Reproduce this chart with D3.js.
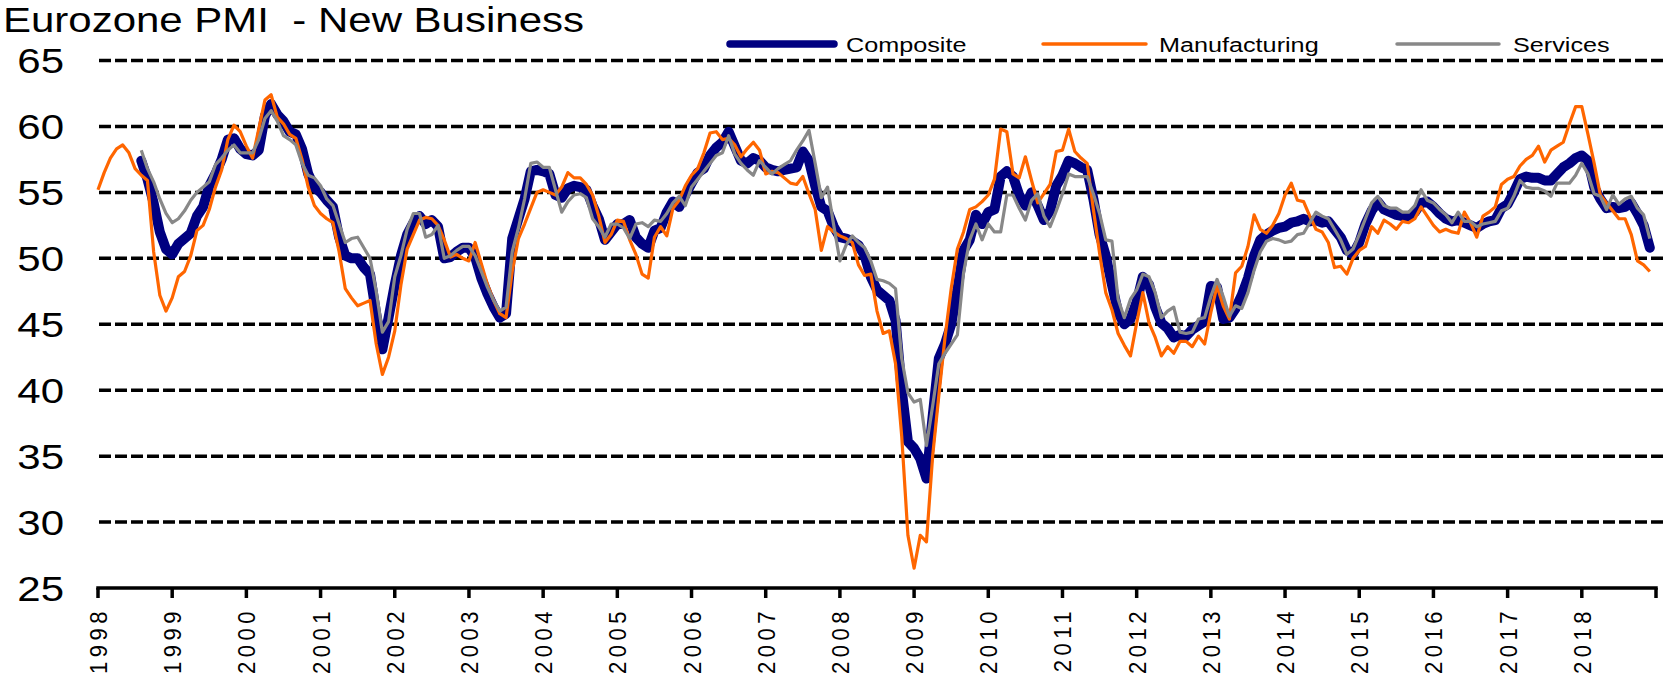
<!DOCTYPE html>
<html lang="en">

<head>
  <meta charset="utf-8" />
  <title>Eurozone PMI - New Business</title>
  <script src="https://cdn.jsdelivr.net/npm/d3@7"></script>
  <style>
    body {
      margin: 0;
      background: #fff;
    }

    svg {
      display: block;
      font-family: "Liberation Sans", Arial, sans-serif;
    }

    .grid-line {
      stroke: #000;
      stroke-width: 3.5px;
      stroke-dasharray: 12, 4;
    }

    .axis-line {
      stroke: #000;
      stroke-width: 3.5px;
    }

    .composite-line {
      fill: none;
      stroke: #000080;
      stroke-width: 10px;
      stroke-linejoin: round;
      stroke-linecap: round;
    }

    .manufacturing-line {
      fill: none;
      stroke: #ff6600;
      stroke-width: 3.2px;
      stroke-linejoin: round;
    }

    .services-line {
      fill: none;
      stroke: #888888;
      stroke-width: 3.2px;
      stroke-linejoin: round;
    }
  </style>
</head>

<body>
  <script>
    // monthly index readings, Manufacturing from Jan 1998, the others from Aug 1998
    var manufacturing = [
      55.2, 56.5, 57.6, 58.3, 58.6, 58.0, 56.8, 56.3, 55.9, 50.5, 47.2, 46.0,
      47.0, 48.6, 49.0, 50.2, 52.1, 52.5, 53.7, 55.4, 56.7, 59.0, 60.1, 59.6,
      58.5, 57.6, 59.8, 62.0, 62.4, 60.7, 60.2, 59.4, 59.1, 57.5, 55.4, 54.0,
      53.4, 53.0, 52.7, 50.5, 47.7, 47.0, 46.4, 46.6, 46.8, 43.5, 41.2, 42.5,
      44.5, 48.0, 50.7, 51.8, 52.9, 53.1, 53.0, 52.5, 51.4, 50.1, 50.3, 50.0,
      49.8, 51.2, 49.6, 48.0, 46.8, 45.8, 45.5, 49.0, 51.5, 52.6, 53.8, 55.0,
      55.2, 55.0, 54.8, 55.4, 56.5, 56.1, 56.1, 55.6, 54.8, 53.2, 51.2, 51.8,
      52.9, 52.8, 51.4, 50.3, 48.8, 48.5, 51.6, 52.4, 51.7, 53.8, 54.4, 55.5,
      56.3, 56.8, 58.0, 59.5, 59.6, 59.0, 59.1, 58.6, 57.7, 58.3, 58.8, 58.2,
      56.4, 56.6, 56.5, 56.1, 55.7, 55.6, 56.2, 54.9, 53.7, 50.6, 52.4, 52.0,
      51.7, 51.5, 51.2, 49.5, 48.7, 48.8, 46.0, 44.3, 44.5, 42.0, 36.5, 29.0,
      26.5, 29.0, 28.5, 35.0, 39.6, 44.0, 47.7, 50.7, 52.0, 53.7, 53.9, 54.3,
      54.8, 56.0, 59.8, 59.6, 56.4, 56.1, 57.7, 55.9, 54.2, 54.9, 55.6, 58.1,
      58.2, 59.8, 58.1, 57.6, 57.2, 53.7, 50.4, 47.4, 46.1, 44.3, 43.4, 42.6,
      45.1, 47.4, 45.1, 44.0, 42.6, 43.3, 42.8, 43.7, 43.7, 43.3, 44.1, 43.5,
      45.9, 47.9, 46.4, 45.4, 48.9, 49.4, 50.9, 53.3, 52.2, 51.9, 52.5, 53.4,
      54.8, 55.7, 54.4, 54.3, 53.2, 52.2, 52.0, 51.2, 49.3, 49.4, 48.8, 50.0,
      50.6, 50.9, 52.4, 51.9, 52.9, 52.6, 52.2, 52.8, 52.7, 53.0, 53.9, 53.2,
      52.5, 52.0, 52.2, 52.0, 51.9, 53.5, 52.7, 51.6, 53.2, 53.5, 53.9, 55.6,
      56.0, 56.2, 57.0, 57.5, 57.8, 58.5, 57.3, 58.2, 58.5, 58.8, 60.2, 61.5,
      61.5, 59.4, 57.2, 54.8, 54.2, 53.6, 53.0, 53.0, 51.8, 49.8, 49.5, 49.0
    ];

    var composite = [
      57.4, 56.0, 54.2, 52.0, 50.7,
      50.3, 51.1, 51.5, 51.9, 53.2, 53.9, 55.5, 56.4, 57.5, 59.0, 59.1, 58.3,
      57.9, 57.8, 58.2, 60.8, 61.7, 60.9, 60.4, 59.6, 59.4, 58.3, 56.4, 55.4,
      55.0, 54.4, 53.9, 51.6, 50.2, 50.0, 50.0, 49.3, 48.8, 45.8, 43.1, 45.5,
      48.0, 50.2, 51.8, 52.7, 53.2, 52.6, 52.9, 52.4, 50.0, 50.1, 50.5, 50.8,
      50.8, 50.1, 48.5, 47.3, 46.3, 45.5, 45.8, 51.5, 53.0, 54.5, 56.6, 56.7,
      56.6, 56.4, 54.8, 54.6, 55.3, 55.5, 55.4, 55.2, 54.0, 53.0, 51.4, 52.0,
      52.6, 52.6, 52.9, 51.6, 51.1, 50.8, 52.1, 52.3, 53.5, 54.3, 53.9, 54.8,
      55.7, 56.5, 56.8, 57.8, 58.4, 58.8, 59.6, 58.5, 57.4, 57.2, 57.6, 57.4,
      56.9, 56.7, 56.6, 56.7, 56.8, 56.9, 58.1, 57.4, 55.5, 53.9, 53.6, 52.4,
      51.6, 51.5, 51.3, 51.0, 50.2, 48.6, 47.6, 47.2, 46.8, 45.3, 40.0, 36.1,
      35.6, 34.8, 33.3, 38.0, 42.4, 43.5, 45.0, 47.6, 50.6, 51.4, 53.3, 52.6,
      53.5, 53.7, 56.2, 56.6, 56.2, 54.8, 54.0, 55.0, 54.0, 52.9, 53.6, 55.5,
      56.3, 57.4, 57.2, 56.9, 56.7, 54.5, 51.8, 50.2, 48.0, 45.9, 45.0, 45.4,
      46.7, 48.6, 48.0, 46.3, 45.1, 44.7, 44.0, 44.2, 44.1, 44.6, 44.9, 45.2,
      47.9, 47.8, 45.4, 45.5, 46.2, 47.2, 48.5, 50.2, 51.4, 51.8, 52.1, 52.3,
      52.4, 52.7, 52.8, 53.0, 52.8, 52.9, 52.7, 52.8, 52.2, 51.6, 50.6, 50.3,
      51.2, 52.6, 53.6, 54.3, 53.7, 53.5, 53.3, 53.2, 53.2, 53.5, 54.2, 54.3,
      53.9, 53.4, 53.0, 52.8, 52.9, 52.7, 52.5, 52.3, 52.6, 52.8, 52.9, 53.8,
      54.1, 55.0, 56.0, 56.2, 56.1, 56.1, 55.9, 55.9, 56.4, 56.9, 57.2, 57.6,
      57.8, 57.4, 55.4, 54.5, 53.8, 53.9, 53.8, 53.9, 54.2, 53.4, 52.5, 50.8
    ];

    var services = [
      58.2, 56.8, 55.8, 54.5, 53.4,
      52.7, 53.0, 53.6, 54.4, 55.0, 55.4, 55.8, 57.1, 57.6, 58.2, 58.6, 58.0,
      58.0, 58.0, 59.0, 60.6, 61.2, 60.4, 59.3, 59.0, 58.6, 57.2, 56.3, 56.1,
      55.5, 54.5, 54.0, 52.6, 51.2, 51.5, 51.6, 50.8, 50.0, 47.5, 44.4, 45.2,
      48.6, 50.2, 52.2, 53.4, 53.4, 51.6, 51.8, 52.5, 50.0, 50.2, 50.6, 50.9,
      50.9, 50.2, 49.0, 47.8, 46.8, 46.0, 46.3, 50.5, 52.3, 54.5, 57.2, 57.3,
      56.9, 56.9, 55.2, 53.5, 54.3, 54.8, 54.9, 54.6, 53.0, 52.4, 51.6, 52.6,
      52.6, 52.3, 51.5, 52.6, 52.7, 52.4, 52.9, 52.8, 53.4, 54.2, 54.7, 54.0,
      55.4, 56.0, 56.6, 57.2, 57.8, 58.0, 59.3, 57.9, 57.2, 56.7, 56.3, 57.4,
      56.9, 56.4, 56.8, 57.1, 57.4, 58.2, 58.9, 59.7, 57.2, 54.6, 55.4, 52.5,
      49.8, 51.0, 51.7, 51.2, 50.8, 49.8, 48.4, 48.3, 48.1, 47.7, 42.4, 39.8,
      39.1, 39.3, 35.8, 38.8, 42.0, 42.8, 43.5, 44.2, 48.9, 51.4, 52.6, 51.4,
      52.6, 52.0, 52.0, 54.8, 54.8, 53.8, 52.9, 54.4, 54.9, 53.2, 52.4, 53.6,
      54.9, 56.4, 56.2, 56.2, 56.2, 54.9, 53.4, 51.4, 51.3, 46.9, 45.5, 46.9,
      47.6, 48.8, 48.6, 47.4, 45.5, 46.0, 46.3, 44.4, 44.3, 44.4, 45.4, 45.5,
      47.1, 48.4, 47.1, 45.6, 46.4, 46.2, 47.4, 49.1, 50.5, 51.3, 51.5, 51.4,
      51.2, 51.3, 51.8, 51.9, 52.7, 53.5, 53.2, 53.0, 52.2, 51.4, 50.3, 50.7,
      51.8, 53.0, 54.2, 54.7, 54.0, 53.8, 53.8, 53.5, 53.5, 54.0, 55.2, 54.4,
      54.2, 53.7, 53.3, 52.7, 53.5, 52.8, 52.8, 52.4, 52.6, 52.7, 52.8, 53.6,
      53.8, 54.7, 55.9, 55.4, 55.3, 55.3, 55.1, 54.7, 55.7, 55.7, 55.7, 56.3,
      57.2, 56.4, 54.9, 54.7, 53.7, 54.8, 54.1, 54.5, 54.7, 53.8, 53.3, 51.5
    ];

    // month offsets from Jan 1998
    var manufacturingStart = 0;
    var compositeStart = 7;
    var servicesStart = 7;

    var seriesNames = ["Composite", "Manufacturing", "Services"];
    var yearLabels = d3.range(1998, 2019);
    var yTicks = [25, 30, 35, 40, 45, 50, 55, 60, 65];
    var title = "Eurozone PMI  - New Business";

    var w = 1667;
    var h = 679;
    var plot = { left: 98, right: 1656, top: 60.5, bottom: 588 };
    var stretch = 1.2;

    var svg = d3.select("body")
      .append("svg")
      .attr("width", w)
      .attr("height", h);

    var xScale = d3.scaleLinear()
      .domain([0, yearLabels.length * 12])
      .range([plot.left, plot.right]);

    var yScale = d3.scaleLinear()
      .domain([25, 65])
      .range([plot.bottom, plot.top]);

    // dashed grid
    svg.selectAll(".grid-line")
      .data(yTicks.filter(function(d) { return d > 25; }))
      .enter()
      .append("line")
      .attr("class", "grid-line")
      .attr("x1", plot.left + 1)
      .attr("x2", 1664)
      .attr("y1", function(d) { return yScale(d); })
      .attr("y2", function(d) { return yScale(d); });

    // y labels
    svg.selectAll(".y-label")
      .data(yTicks)
      .enter()
      .append("text")
      .attr("class", "y-label")
      .attr("text-anchor", "end")
      .attr("font-size", 35)
      .attr("transform", function(d) {
        return "translate(64," + (yScale(d) + 12.5) + ") scale(" + stretch + ",1)";
      })
      .text(function(d) { return d; });

    // x axis
    svg.append("line")
      .attr("class", "axis-line")
      .attr("x1", plot.left - 1.75)
      .attr("x2", plot.right + 1.75)
      .attr("y1", plot.bottom)
      .attr("y2", plot.bottom);

    svg.selectAll(".x-tick")
      .data(d3.range(yearLabels.length + 1))
      .enter()
      .append("line")
      .attr("class", "axis-line x-tick")
      .attr("x1", function(d) { return xScale(d * 12); })
      .attr("x2", function(d) { return xScale(d * 12); })
      .attr("y1", plot.bottom)
      .attr("y2", plot.bottom + 10);

    svg.selectAll(".x-label")
      .data(yearLabels)
      .enter()
      .append("text")
      .attr("class", "x-label")
      .attr("text-anchor", "end")
      .attr("font-size", 22)
      .attr("letter-spacing", 4.5)
      .attr("transform", function(d, i) {
        return "translate(" + (xScale(i * 12) + 9) + ",607) scale(1.1,1) rotate(-90)";
      })
      .text(function(d) { return d; });

    // series
    function toPoints(values, start) {
      return values.map(function(v, i) {
        return { m: start + i, v: v };
      });
    }

    var line = d3.line()
      .x(function(d) { return xScale(d.m); })
      .y(function(d) { return yScale(d.v); });

    svg.append("path")
      .datum(toPoints(composite, compositeStart))
      .attr("class", "composite-line")
      .attr("d", line);

    svg.append("path")
      .datum(toPoints(manufacturing, manufacturingStart))
      .attr("class", "manufacturing-line")
      .attr("d", line);

    svg.append("path")
      .datum(toPoints(services, servicesStart))
      .attr("class", "services-line")
      .attr("d", line);

    // title
    svg.append("text")
      .attr("font-size", 35)
      .attr("style", "white-space: pre")
      .attr("transform", "translate(3,32) scale(" + stretch + ",1)")
      .text(title);

    // legend
    var legend = [
      { cls: "composite-line", x1: 730, x2: 834, tx: 846, sw: 7.5 },
      { cls: "manufacturing-line", x1: 1043, x2: 1146, tx: 1159, sw: 3.5 },
      { cls: "services-line", x1: 1397, x2: 1499, tx: 1513, sw: 3.5 }
    ];

    legend.forEach(function(l, i) {
      svg.append("line")
        .attr("class", l.cls)
        .attr("x1", l.x1)
        .attr("x2", l.x2)
        .attr("y1", 44)
        .attr("y2", 44)
        .style("stroke-width", l.sw + "px")
        .style("stroke-linecap", "round");

      svg.append("text")
        .attr("font-size", 21)
        .attr("transform", "translate(" + l.tx + ",52) scale(" + stretch + ",1)")
        .text(seriesNames[i]);
    });
  </script>
</body>

</html>
